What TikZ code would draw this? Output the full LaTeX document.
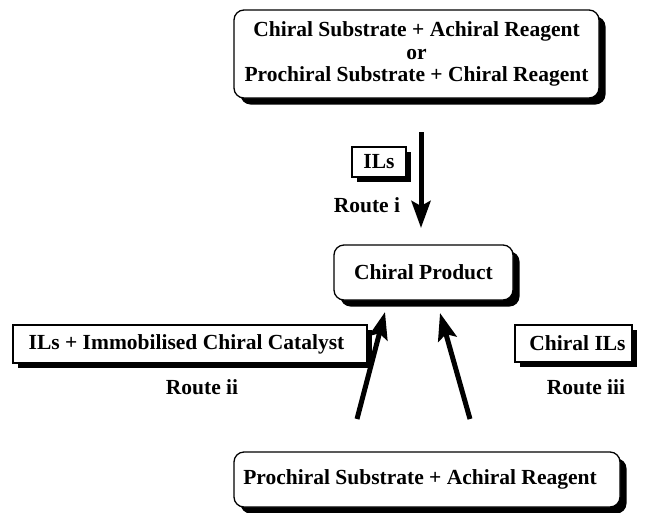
\documentclass[tikz,border=0pt]{standalone}
\usepackage{fontspec}
\setmainfont{Liberation Serif}
\usetikzlibrary{shadows,arrows.meta}
\begin{document}
\begin{tikzpicture}[x=1pt,y=-1pt,
  every node/.style={font=\fontsize{21.5}{22.5}\selectfont\bfseries},
  rbox/.style={draw,line width=1.3pt,fill=white,rounded corners=10pt,inner sep=0pt,
    align=center,drop shadow={shadow xshift=6.5pt,shadow yshift=-6.5pt,opacity=1,fill=black}},
  sbox/.style={draw,line width=1.3pt,fill=white,inner sep=0pt,
    align=center,drop shadow={shadow xshift=5pt,shadow yshift=-5pt,opacity=1,fill=black}},
  lbl/.style={inner sep=0pt},
  bigarrow/.style={line width=5pt,-{Stealth[length=27pt,width=19pt,inset=5pt]}}]
\useasboundingbox (0,0) rectangle (650,512);
\node[rbox,minimum width=365pt,minimum height=88pt] (top) at (416.5,54)
  {Chiral Substrate + Achiral Reagent\\or\\Prochiral Substrate + Chiral Reagent};
\node[sbox,minimum width=54pt,minimum height=30pt] (ils) at (379,162) {ILs};
\node[lbl] (r1) at (367,205) {Route i};
\node[rbox,minimum width=179pt,minimum height=55pt] (prod) at (423.5,272.5) {Chiral Product};
\node[sbox,minimum width=354pt,minimum height=38pt] (left) at (190,344) {\hspace*{-7pt}ILs + Immobilised Chiral Catalyst};
\node[lbl] (r2) at (202,387) {Route ii};
\node[sbox,minimum width=117pt,minimum height=37pt] (right) at (573.5,343.5) {\hspace*{8pt}Chiral ILs};
\node[lbl] (r3) at (586,387) {Route iii};
\node[rbox,minimum width=386pt,minimum height=55pt] (bot) at (427,479.5) {\hspace*{-14pt}Prochiral Substrate + Achiral Reagent};
\coordinate (a1s) at (421,132);
\coordinate (a1e) at (421,228);
\coordinate (a2s) at (357,419);
\coordinate (a2e) at (385,312);
\coordinate (a3s) at (470,419);
\coordinate (a3e) at (440,313);
\draw[bigarrow] (a1s) -- (a1e);
\draw[bigarrow] (a2s) -- (a2e);
\draw[bigarrow] (a3s) -- (a3e);
\end{tikzpicture}
\end{document}
